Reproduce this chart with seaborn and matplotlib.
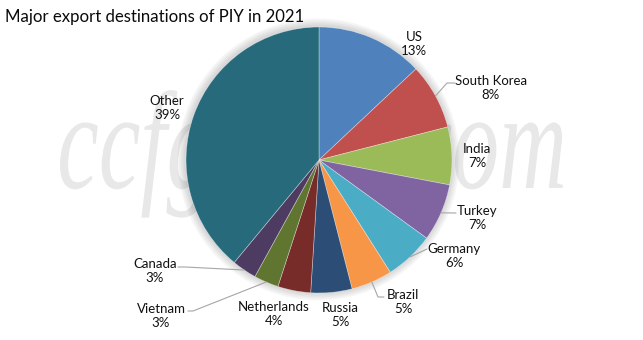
import numpy as np
import matplotlib
matplotlib.use('Agg')
import matplotlib.pyplot as plt
import seaborn as sns
from matplotlib.textpath import TextPath
from matplotlib.patches import PathPatch, Circle
from matplotlib.font_manager import FontProperties
import matplotlib.transforms as mtransforms

# ---------------- data ----------------
countries = ["US", "South Korea", "India", "Turkey", "Germany", "Brazil",
             "Russia", "Netherlands", "Vietnam", "Canada", "Other"]
shares = [13, 8, 7, 7, 6, 5, 5, 4, 3, 3, 39]
title = "Major export destinations of PIY in 2021"
watermark = "ccfgroup.com"

# ---------------- style ----------------
colors = ["#4F81BD", "#C0504D", "#9BBB59", "#8064A2", "#4BACC6", "#F79646",
          "#2C4D75", "#772C2A", "#5F7530", "#4D3B62", "#276A7C"]

W, H = 643, 340
sns.set_theme(style="white")
plt.rcParams['font.family'] = ['Lato', 'DejaVu Sans']

fig = plt.figure(figsize=(W / 100, H / 100), dpi=100)
fig.patch.set_facecolor("white")

# pixel -> figure transform
pix = mtransforms.Affine2D().scale(1 / W, 1 / H) + fig.transFigure

# watermark (faint text)
tp = TextPath((0, 0), watermark, size=1,
              prop=FontProperties(family="Liberation Serif", style="italic"))
bb = tp.get_extents()
sx = (563 - 60) / bb.width
sy = 64 / 0.46
tr = mtransforms.Affine2D().scale(sx, sy).translate(60 - bb.x0 * sx, H - 188) + pix
fig.patches.append(PathPatch(tp, facecolor="#E8E8E8", edgecolor="none",
                             transform=tr, zorder=-5))

# pie geometry in pixels
cx, cy, R = 319, 160, 133
ax = fig.add_axes([0, 0, 1, 1])
ax.patch.set_visible(False)

# soft shadow
for k in range(5):
    ax.add_patch(Circle((-0.004, 0.004), 1 + 0.012 * (k + 1), color="k",
                        alpha=0.035, lw=0, zorder=0))

wedges, _ = ax.pie(shares, colors=colors, startangle=90, counterclock=False,
                   radius=1, wedgeprops=dict(linewidth=0.5,
                                             edgecolor=(1, 1, 1, 0.45)))
for w in wedges:
    w.set_zorder(2)
ax.set_xlim(-cx / R, (W - cx) / R)
ax.set_ylim((cy - H) / R, cy / R)
ax.set_aspect("equal", adjustable="box")
ax.axis("off")


def px(x, y):
    return ((x - cx) / R, (cy - y) / R)


# label centres (pixels) and leader elbows (pixels)
label_pos = {
    "US": (414, 44), "South Korea": (491, 88), "India": (477, 156),
    "Turkey": (477, 218), "Germany": (454, 256), "Brazil": (403, 302),
    "Russia": (340, 315), "Netherlands": (274, 314), "Vietnam": (161, 316),
    "Canada": (155, 271), "Other": (167, 108),
}
leaders = {
    "South Korea": [(447, 83), (455, 83)],
    "Turkey": [(456, 213)],
    "Germany": [(427, 249)],
    "Brazil": [(378, 297), (384, 297)],
    "Vietnam": [(193, 311), (188, 311)],
    "Canada": [(185, 267), (178, 267)],
}

for w, name, val in zip(wedges, countries, shares):
    x, y = px(*label_pos[name])
    ax.text(x, y, f"{name}\n{val}%", ha="center", va="center", fontsize=9.5,
            color="#111111", linespacing=1.25, zorder=5)
    if name in leaders:
        mid = np.deg2rad((w.theta1 + w.theta2) / 2)
        pts = [(np.cos(mid), np.sin(mid))] + [px(*p) for p in leaders[name]]
        xs, ys = zip(*pts)
        ax.plot(xs, ys, color="#A6A6A6", lw=0.8, zorder=4)

fig.text(5 / W, 1 - 17 / H, title, ha="left", va="center", fontsize=12.1,
         color="#0a0a0a")

fig.savefig("out.png", dpi=100)
